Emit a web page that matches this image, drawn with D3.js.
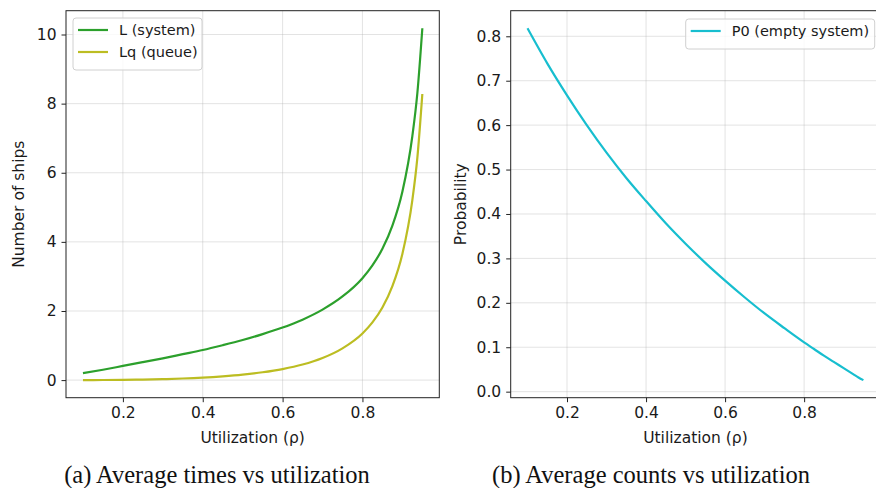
<!DOCTYPE html>
<html>
<head>
<meta charset="utf-8">
<title>Utilization charts</title>
<script src="https://d3js.org/d3.v7.min.js"></script>
<style>
  body { margin: 0; background: #fff; }
  .tick text { font-family: "DejaVu Sans", sans-serif; font-size: 15.5px; fill: #1a1a1a; }
  .axlabel { font-family: "DejaVu Sans", sans-serif; font-size: 15.5px; fill: #1a1a1a; }
  .legend text { font-family: "DejaVu Sans", sans-serif; font-size: 14.5px; fill: #1a1a1a; }
  .caption { font-family: "Liberation Serif", serif; font-size: 24.5px; fill: #111; }
</style>
</head>
<body>
<svg id="chart" width="876" height="488"></svg>
<script>
// utilization values (x) shared by all curves
var rho = [0.10, 0.15, 0.20, 0.25, 0.30, 0.35, 0.40, 0.45, 0.50, 0.55, 0.60, 0.65,
           0.70, 0.75, 0.80, 0.825, 0.85, 0.875, 0.90, 0.925, 0.9375, 0.95];
// L (system) - number of ships in system
var L  = [0.20, 0.30, 0.41, 0.52, 0.63, 0.75, 0.87, 1.01, 1.16, 1.33, 1.52, 1.75,
          2.04, 2.42, 2.95, 3.32, 3.80, 4.47, 5.45, 7.06, 8.30, 10.18];
// Lq (queue)
var Lq = [0.00, 0.003, 0.008, 0.016, 0.028, 0.046, 0.072, 0.109, 0.158, 0.227, 0.32, 0.45,
          0.64, 0.92, 1.35, 1.67, 2.10, 2.72, 3.65, 5.21, 6.43, 8.28];
// P0 (empty system)
var P0 = [0.818, 0.739, 0.667, 0.600, 0.538, 0.481, 0.429, 0.379, 0.333, 0.290, 0.250, 0.212,
          0.176, 0.143, 0.111, 0.096, 0.081, 0.067, 0.053, 0.039, 0.032, 0.026];

var xTicks = [0.2, 0.4, 0.6, 0.8];
var yTicksA = [0, 2, 4, 6, 8, 10];
var yTicksB = [0, 0.1, 0.2, 0.3, 0.4, 0.5, 0.6, 0.7, 0.8];

var svg = d3.select("#chart");
svg.append("rect").attr("width", 876).attr("height", 488).attr("fill", "#fff");

// matplotlib style 5% padding
function padded(vals) {
  var e = d3.extent(vals), p = (e[1] - e[0]) * 0.05;
  return [e[0] - p, e[1] + p];
}

function panel(opt) {
  var x = d3.scaleLinear().domain(padded(rho)).range([opt.left, opt.right]);
  var allY = [].concat.apply([], opt.series.map(function (s) { return s.values; }));
  var y = d3.scaleLinear().domain(padded(allY)).range([opt.bottom, opt.top]);
  var g = svg.append("g");

  // grid
  g.selectAll(".gx").data(xTicks).enter().append("line")
    .attr("x1", x).attr("x2", x).attr("y1", opt.top).attr("y2", opt.bottom)
    .attr("stroke", "#b0b0b0").attr("stroke-opacity", 0.35);
  g.selectAll(".gy").data(opt.yTicks).enter().append("line")
    .attr("y1", y).attr("y2", y).attr("x1", opt.left).attr("x2", opt.right)
    .attr("stroke", "#b0b0b0").attr("stroke-opacity", 0.35);

  // curves
  var line = d3.line().curve(d3.curveMonotoneX);
  opt.series.forEach(function (s) {
    g.append("path")
      .datum(rho.map(function (r, i) { return [x(r), y(s.values[i])]; }))
      .attr("d", line).attr("fill", "none")
      .attr("stroke", s.color).attr("stroke-width", 2.2);
  });

  // axes
  var xa = g.append("g").attr("transform", "translate(0," + opt.bottom + ")")
    .call(d3.axisBottom(x).tickValues(xTicks).tickSize(4.5).tickPadding(5).tickFormat(d3.format(".1f")));
  var ya = g.append("g").attr("transform", "translate(" + opt.left + ",0)")
    .call(d3.axisLeft(y).tickValues(opt.yTicks).tickSize(4.5).tickPadding(5).tickFormat(opt.fmt));
  [xa, ya].forEach(function (a) {
    a.select(".domain").remove();
    a.selectAll(".tick line").attr("stroke", "#222");
  });

  // frame
  g.append("rect").attr("x", opt.left).attr("y", opt.top)
    .attr("width", opt.right - opt.left).attr("height", opt.bottom - opt.top)
    .attr("fill", "none").attr("stroke", "#222").attr("stroke-width", 1);

  // labels
  g.append("text").attr("class", "axlabel").attr("text-anchor", "middle")
    .attr("x", (opt.left + opt.right) / 2).attr("y", 443)
    .text("Utilization (\u03c1)");
  g.append("text").attr("class", "axlabel").attr("text-anchor", "middle")
    .attr("transform", "translate(" + opt.ylabelX + "," + ((opt.top + opt.bottom) / 2) + ") rotate(-90)")
    .text(opt.ylabel);

  // legend
  var lg = g.append("g").attr("class", "legend");
  lg.append("rect").attr("x", opt.leg.x).attr("y", opt.leg.y)
    .attr("width", opt.leg.w).attr("height", 8 + opt.series.length * 22)
    .attr("rx", 3).attr("fill", "#fff").attr("fill-opacity", 0.8)
    .attr("stroke", "#d0d0d0");
  opt.series.forEach(function (s, i) {
    var cy = opt.leg.y + 12 + i * 22;
    lg.append("line").attr("x1", opt.leg.x + 5).attr("x2", opt.leg.x + 35)
      .attr("y1", cy).attr("y2", cy).attr("stroke", s.color).attr("stroke-width", 2.2);
    lg.append("text").attr("x", opt.leg.x + 46).attr("y", cy + 5).text(s.name);
  });

  // caption
  svg.append("text").attr("class", "caption").attr("text-anchor", "middle")
    .attr("x", opt.capX).attr("y", 483).text(opt.caption);
}

panel({
  left: 66, right: 439.3, top: 10.7, bottom: 397.7,
  series: [{ name: "L (system)", values: L, color: "#2ca02c" },
           { name: "Lq (queue)", values: Lq, color: "#bcbd22" }],
  yTicks: yTicksA, fmt: d3.format("d"),
  ylabel: "Number of ships", ylabelX: 24,
  leg: { x: 73, y: 18, w: 129 },
  caption: "(a) Average times vs utilization", capX: 217
});

panel({
  left: 510.7, right: 880.2, top: 10.7, bottom: 397.7,
  series: [{ name: "P0 (empty system)", values: P0, color: "#17becf" }],
  yTicks: yTicksB, fmt: d3.format(".1f"),
  ylabel: "Probability", ylabelX: 466,
  leg: { x: 685.7, y: 19, w: 189 },
  caption: "(b) Average counts vs utilization", capX: 651
});
</script>
</body>
</html>
